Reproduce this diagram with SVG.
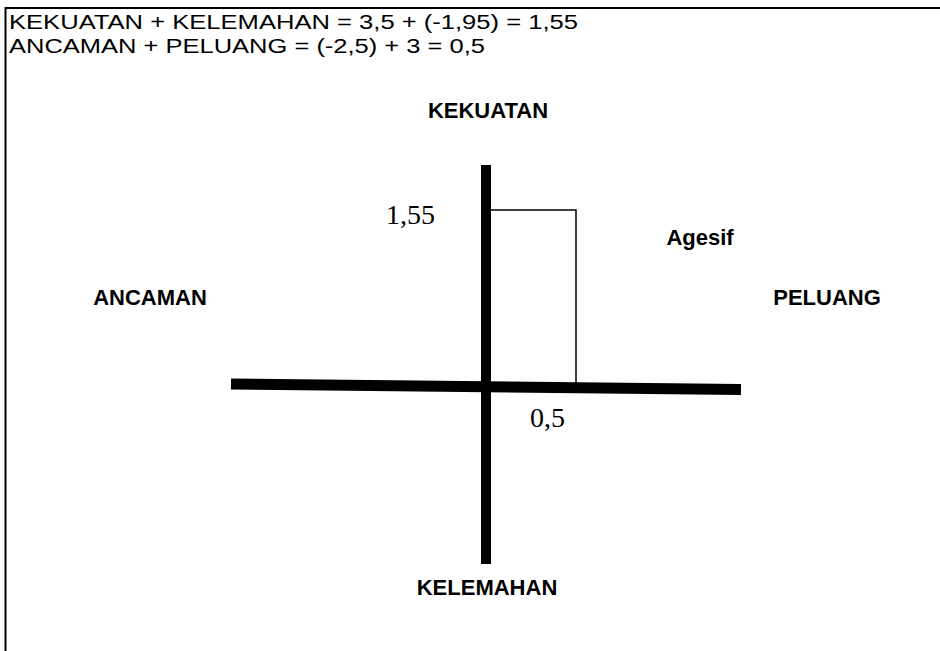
<svg xmlns="http://www.w3.org/2000/svg" width="940" height="651" viewBox="0 0 940 651">
<style>
.hdr{font-family:"Liberation Sans",Arial,sans-serif;font-size:20px;fill:#000}
.lbl{font-family:"Liberation Sans",Arial,sans-serif;font-size:22px;font-weight:bold;fill:#000}
.num{font-family:"Liberation Serif","Times New Roman",serif;font-size:28px;fill:#000}
</style>
<rect width="940" height="651" fill="#fff"/>
<g id="frame" stroke="#000" stroke-width="2" fill="none">
<path d="M5.5 651 V8 H940"/>
</g>
<g id="header">
<text class="hdr" x="9" y="29" textLength="569" lengthAdjust="spacingAndGlyphs">KEKUATAN + KELEMAHAN = 3,5 + (-1,95) = 1,55</text>
<text class="hdr" x="9" y="53" textLength="476" lengthAdjust="spacingAndGlyphs">ANCAMAN + PELUANG = (-2,5) + 3 = 0,5</text>
</g>
<g id="connectors">
<line x1="486" y1="165" x2="486" y2="564" stroke="#000" stroke-width="10"/>
<line x1="231" y1="384" x2="741" y2="389.5" stroke="#000" stroke-width="11"/>
<polyline points="491,210 576,210 576,384" fill="none" stroke="#000" stroke-width="1.5"/>
</g>
<g id="kekuatan"><text class="lbl" x="488" y="118" text-anchor="middle">KEKUATAN</text></g>
<g id="kelemahan"><text class="lbl" x="487" y="595" text-anchor="middle">KELEMAHAN</text></g>
<g id="ancaman"><text class="lbl" x="150" y="305" text-anchor="middle">ANCAMAN</text></g>
<g id="peluang"><text class="lbl" x="827" y="305" text-anchor="middle">PELUANG</text></g>
<g id="agesif"><text class="lbl" x="700" y="245" text-anchor="middle">Agesif</text></g>
<g id="v155"><text class="num" x="386" y="224">1,55</text></g>
<g id="v05"><text class="num" x="530" y="427">0,5</text></g>
</svg>
